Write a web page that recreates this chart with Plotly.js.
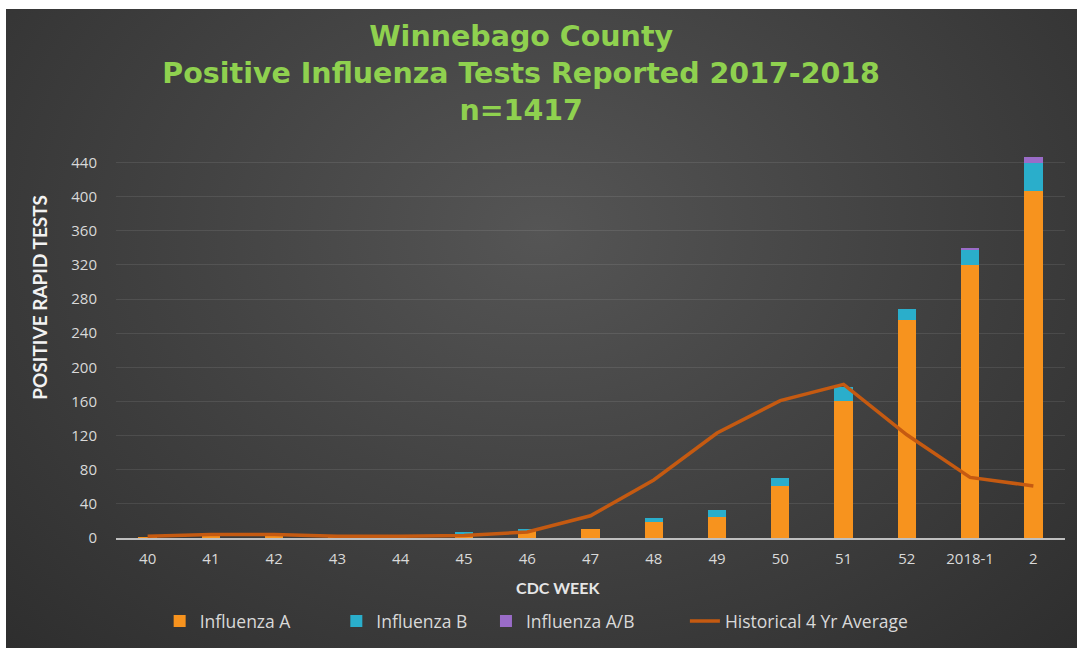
<!DOCTYPE html>
<html>
<head>
<meta charset="utf-8">
<script src="https://cdn.plot.ly/plotly-3.0.1.min.js"></script>
<style>
  html, body { margin: 0; padding: 0; background: #ffffff; width: 1077px; height: 648px; overflow: hidden; }
  #chart { position: absolute; left: 6px; top: 9px; width: 1071px; height: 639px;
    background: radial-gradient(ellipse at 50% 35%, #555555 0%, #434343 45%, #2e2e2e 100%); }
</style>
</head>
<body>
<div id="chart"></div>
<script>
const weeks = ["40","41","42","43","44","45","46","47","48","49","50","51","52","2018-1","2"];
const fluA  = [1, 6, 3, 1, 0, 5, 8, 10, 19, 25, 61, 160, 256, 320, 407];
const fluB  = [0, 0, 0, 0, 0, 2, 3, 1, 5, 8, 9, 17, 12, 18, 33];
const fluAB = [0, 0, 0, 0, 0, 0, 0, 0, 0, 0, 0, 0, 0, 2, 6];
const hist4yr = [2, 4, 4, 2, 2, 3, 7, 26, 68, 123, 161, 180, 121, 71, 61];
const yTicks = [0, 40, 80, 120, 160, 200, 240, 280, 320, 360, 400, 440];
const seriesNames = ["Influenza A", "Influenza B", "Influenza A/B", "Historical 4 Yr Average"];

const pad = n => "&nbsp;".repeat(n);
const wide = "'Open Sans', Lato, sans-serif";
const narrow = "Lato, 'Open Sans', sans-serif";
const traces = [
  { type: "bar", name: seriesNames[0] + pad(9), x: weeks, y: fluA,
    marker: { color: "#f7931e", line: { width: 0 } } },
  { type: "bar", name: seriesNames[1] + pad(3), x: weeks, y: fluB,
    marker: { color: "#2aaecb", line: { width: 0 } } },
  { type: "bar", name: seriesNames[2] + pad(10), x: weeks, y: fluAB,
    marker: { color: "#9a6cc8", line: { width: 0 } } },
  { type: "scatter", mode: "lines", name: seriesNames[3], x: weeks, y: hist4yr,
    line: { color: "#c55a11", width: 3.5 } }
];

const layout = {
  width: 1071, height: 639,
  paper_bgcolor: "rgba(0,0,0,0)",
  plot_bgcolor: "rgba(0,0,0,0)",
  barmode: "stack",
  bargap: 0.71,
  margin: { l: 110, r: 12, t: 145, b: 110, autoexpand: false },
  title: {
    text: "Winnebago County<br>Positive Influenza Tests Reported 2017-2018<br>n=1417",
    font: { family: "'DejaVu Sans', 'Open Sans', sans-serif", size: 28.5, color: "#8fd14f", weight: "bold" },
    x: 0.481, xanchor: "center", y: 0.9415, yanchor: "middle"
  },
  font: { family: wide, color: "#d9d9d9" },
  xaxis: {
    type: "category", automargin: false,
    tickfont: { family: wide, size: 15, color: "#d9d9d9" },
    showgrid: false, zeroline: false,
    showline: true, linecolor: "#bfbfbf", linewidth: 1.5,
    ticks: "", ticklen: 0, ticklabelstandoff: 6,
    title: { text: "<b>CDC WEEK</b>" + pad(16), font: { family: narrow, size: 16, color: "#e6e6e6" }, standoff: 16 }
  },
  yaxis: {
    range: [0, 450], automargin: false,
    tickvals: yTicks,
    tickfont: { family: wide, size: 15, color: "#d9d9d9" },
    showgrid: true, gridcolor: "rgba(255,255,255,0.09)", gridwidth: 1,
    zeroline: false, showline: false,
    ticks: "", ticklabelstandoff: 18,
    title: { text: pad(20) + "<b>POSITIVE RAPID TESTS</b>", font: { family: narrow, size: 19, color: "#f2f2f2" }, standoff: 18 }
  },
  legend: {
    orientation: "h", x: 0.046, xanchor: "left",
    yref: "container", y: 0.042, yanchor: "middle",
    font: { family: wide, size: 17.5, color: "#d9d9d9" },
    traceorder: "normal"
  },
  showlegend: true
};

Plotly.newPlot("chart", traces, layout, { displayModeBar: false, staticPlot: true });
</script>
</body>
</html>
